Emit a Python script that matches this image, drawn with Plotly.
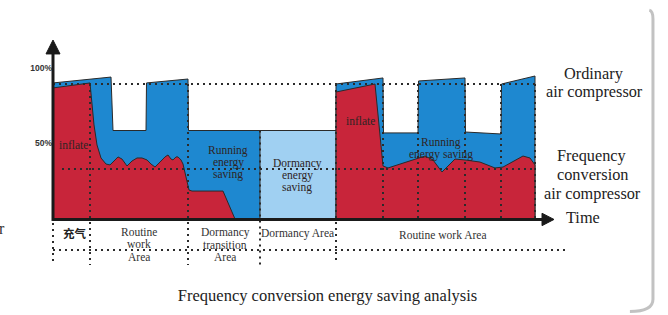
import plotly.graph_objects as go

# ---------------- data (time units, percent of capacity) ----------------
# Ordinary air compressor (blue) – outline of its load profile
ordinary_t = [0, 0, 58, 60, 93, 93.5, 135, 135.5, 207, 283, 283, 330, 330.5, 365, 365.5,
              412, 412.5, 448, 448.5, 482, 482]
ordinary_pct = [0, 90.1, 94.0, 58.6, 58.6, 90.1, 92.7, 58.6, 58.6, 58.6, 89.4, 93.4, 57.0, 57.0, 91.4,
                93.4, 57.6, 56.3, 89.4, 94.7, 0]

# Dormancy energy saving (light blue)
dormancy_t = [207, 207, 283, 283]
dormancy_pct = [0, 58.6, 58.6, 0]

# Frequency conversion air compressor (red)
freq_t = [0, 0, 37, 39, 41, 44, 48, 53, 57, 61, 65, 69, 74, 79, 84, 89, 94, 98, 102, 107, 112,
          115, 118, 120, 123, 125, 128, 130, 132, 134, 136, 139, 170, 182, None,
          283, 283, 322, 330, 335, 347, 359, 372, 380, 389, 395, 402, 412, 427, 437, 442, 450,
          459, 470, 477, 480, 482, 482]
freq_pct = [0, 86.8, 90.1, 75.5, 62.3, 49.0, 40.4, 36.4, 35.8, 38.4, 41.1, 39.7, 35.1, 38.4, 40.4,
            40.4, 39.1, 36.4, 34.4, 37.7, 41.1, 42.4, 39.7, 39.1, 41.1, 41.1, 39.1, 36.4, 31.1, 23.8,
            19.2, 18.5, 18.5, 0, None,
            0, 84.1, 89.4, 35.1, 33.8, 36.4, 39.1, 41.7, 39.1, 31.1, 35.1, 39.7, 39.1, 37.7, 35.1,
            33.8, 34.4, 37.7, 41.7, 40.4, 37.7, 35.8, 0]

# dotted guide lines
guide_t = [0, 482, None, 9, 482, None, 0, 512, None,
           0, 0, None, 37, 37, None, 135, 135, None, 207, 207, None, 283, 283, None,
           330, 330, None, 365, 365, None, 412, 412, None, 448, 448, None, 482, 482]
guide_pct = [89.4, 89.4, None, 33.1, 33.1, None, -20.5, -20.5, None,
             -2.6, -30.5, None, 89.4, -30.5, None, 89.4, -30.5, None, 58.6, -30.5, None, 89.4, -29.1, None,
             89.4, 0, None, 89.4, 0, None, 89.4, 0, None, 89.4, 0, None, 89.4, 0]

tick_vals = [100, 50]
tick_text = ["100%", "50%"]

inner_labels = [
    ("inflate", 20, 49.0),
    ("inflate", 307, 64.9),
    ("Running<br>energy<br>saving", 175, 37.1),
    ("Dormancy<br>energy<br>saving", 244, 28.5),
    ("Running<br>energy saving", 388, 47.0),
]
zone_labels = [
    ("Routine<br>work<br>Area", 86, -16.6),
    ("Dormancy<br>transition<br>Area", 172, -17.0),
    ("Dormancy Area", 244, -9.3),
    ("Routine work Area", 390, -10.6),
]
side_labels = [
    ("Ordinary<br>air compressor", 541, 90.4),
    ("Frequency<br>conversion<br>air compressor", 539, 29.5),
    ("Time", 530, 1.3),
]

RED = "#C8253A"
BLUE = "#1E88D0"
LIGHT = "#A0D0F2"
EDGE = "#2a2a2a"
SERIF = "Liberation Serif, Times New Roman, serif"

fig = go.Figure()
fig.add_trace(go.Scatter(x=ordinary_t, y=ordinary_pct, mode="lines", fill="toself",
                         fillcolor=BLUE, line=dict(color=EDGE, width=1),
                         name="Ordinary air compressor", hoverinfo="skip"))
fig.add_trace(go.Scatter(x=dormancy_t, y=dormancy_pct, mode="lines", fill="toself",
                         fillcolor=LIGHT, line=dict(color=EDGE, width=1),
                         name="Dormancy energy saving", hoverinfo="skip"))
fig.add_trace(go.Scatter(x=freq_t, y=freq_pct, mode="lines", fill="toself",
                         fillcolor=RED, line=dict(color=EDGE, width=1),
                         name="Frequency conversion air compressor", hoverinfo="skip"))
fig.add_trace(go.Scatter(x=guide_t, y=guide_pct, mode="lines",
                         line=dict(color="#2b2b2b", width=2, dash="2px,4px"),
                         hoverinfo="skip", name="guides"))

ann = []


def add_label(txt, t, p, size, color, spacing):
    lines = txt.split("<br>")
    n = len(lines)
    for i, ln in enumerate(lines):
        ann.append(dict(x=t, y=p, text=ln, showarrow=False, xanchor="center", yanchor="middle",
                        yshift=((n - 1) / 2 - i) * spacing,
                        font=dict(family=SERIF, size=size, color=color)))


for txt, t, p in inner_labels:
    add_label(txt, t, p, 11.5, "#2e2424", 12)
for txt, t, p in zone_labels:
    add_label(txt, t, p, 11.5, "#333333", 12.5)
for txt, t, p in side_labels:
    add_label(txt, t, p, 16.3, "#222222", 18.7)
ann.append(dict(x=22, y=-9.3, text="<b>充气</b>", showarrow=False, xanchor="center", yanchor="middle",
                font=dict(family="Noto Sans CJK SC", size=11.5, color="#222222")))
ann.append(dict(x=-46, y=-6.0, text="r", showarrow=False, xanchor="right", yanchor="middle",
                font=dict(family=SERIF, size=16, color="#333333")))

shapes = [
    dict(type="line", x0=0, x1=0, y0=-1.3, y1=109.9, line=dict(color="#1a1a1a", width=3)),
    dict(type="path", path="M -7,109.3 L 0,118.5 L 7,109.3 Z", fillcolor="#1a1a1a",
         line=dict(color="#1a1a1a", width=1)),
    dict(type="line", x0=0, x1=491, y0=-0.3, y1=-0.3, line=dict(color="#1a1a1a", width=3)),
    dict(type="path", path="M 489,3.8 L 501,-0.3 L 489,-4.4 Z", fillcolor="#1a1a1a",
         line=dict(color="#1a1a1a", width=1)),
    dict(type="path", xref="paper", yref="paper",
         path="M 0.943,0.011 Q 0.9775,0.011 0.9775,0.05 L 0.9775,0.94 Q 0.9775,0.965 0.972,0.968",
         line=dict(color="#c2c2c2", width=3)),
]

fig.update_layout(
    width=668, height=315,
    margin=dict(l=0, r=0, t=0, b=0),
    paper_bgcolor="white", plot_bgcolor="white",
    showlegend=False,
    xaxis=dict(range=[-53, 615], visible=False, fixedrange=True),
    yaxis=dict(range=[-63.58, 145.03], anchor="free", position=53 / 668,
               showgrid=False, zeroline=False, showline=False, ticks="",
               tickvals=tick_vals, ticktext=tick_text, ticklabelstandoff=1, fixedrange=True,
               tickfont=dict(family="Liberation Sans, Arial, sans-serif", size=8.5,
                             color="#333333", weight="bold")),
    title=dict(text="Frequency conversion energy saving analysis", x=327.5 / 668, xanchor="center",
               y=1 - 295 / 315, yanchor="middle", yref="paper",
               font=dict(family=SERIF, size=16.5, color="#222222")),
    annotations=ann,
    shapes=shapes,
)

fig.write_html("out.html", config={"displayModeBar": False},
               post_script="document.body.style.margin='0';document.body.style.overflow='hidden';")
